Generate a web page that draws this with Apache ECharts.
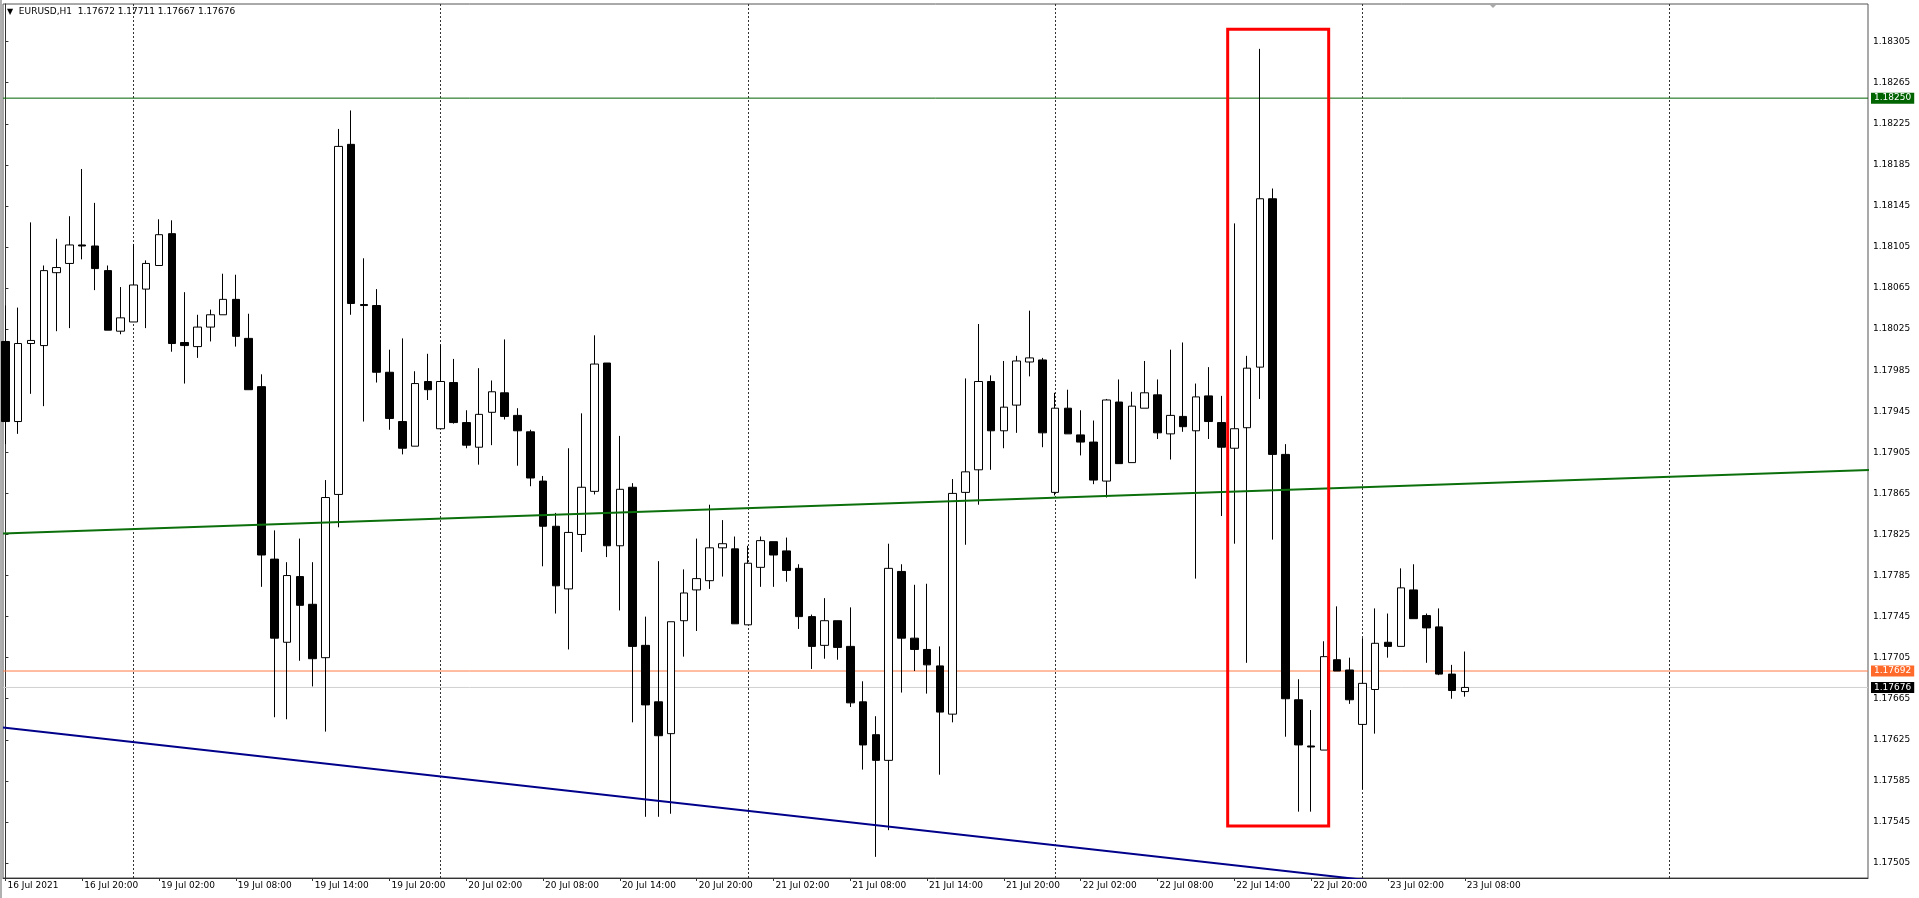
<!DOCTYPE html>
<html>
<head>
<meta charset="utf-8">
<title>EURUSD,H1</title>
<script src="https://cdn.jsdelivr.net/npm/echarts@6.0.0/dist/echarts.min.js"></script>
<style>
  html, body { margin: 0; padding: 0; background: #fff; }
  #chart { width: 1919px; height: 898px; }
</style>
</head>
<body>
<div id="chart"></div>
<script>
// hourly bars, 16 Jul 14:00 -> 23 Jul 08:00 (index = bar number)
const opens = [
  1.18013, 1.17935, 1.18011, 1.18009, 1.18080, 1.18089, 1.18107, 1.18106, 1.18082, 1.18023, 1.18032, 1.18064,
  1.18087, 1.18118, 1.18012, 1.18008, 1.18027, 1.18039, 1.18054, 1.18016, 1.17969, 1.17801, 1.17720, 1.17784,
  1.17757, 1.17705, 1.17864, 1.18205, 1.18049, 1.18048, 1.17983, 1.17935, 1.17911, 1.17974, 1.17928, 1.17973,
  1.17934, 1.17910, 1.17944, 1.17963, 1.17941, 1.17925, 1.17877, 1.17833, 1.17772, 1.17825, 1.17867, 1.17992,
  1.17814, 1.17871, 1.17717, 1.17662, 1.17631, 1.17741, 1.17771, 1.17780, 1.17812, 1.17811, 1.17737, 1.17793,
  1.17818, 1.17809, 1.17792, 1.17745, 1.17717, 1.17741, 1.17716, 1.17662, 1.17630, 1.17605, 1.17789, 1.17724,
  1.17713, 1.17697, 1.17650, 1.17866, 1.17888, 1.17974, 1.17926, 1.17951, 1.17993, 1.17995, 1.17866, 1.17948,
  1.17922, 1.17915, 1.17877, 1.17954, 1.17895, 1.17948, 1.17961, 1.17923, 1.17940, 1.17926, 1.17960, 1.17934,
  1.17909, 1.17929, 1.17988, 1.18152, 1.17903, 1.17664, 1.17619, 1.17615, 1.17703, 1.17693, 1.17640, 1.17674,
  1.17720, 1.17716, 1.17771, 1.17746, 1.17735, 1.17689, 1.17672
];
const highs = [
  1.18048, 1.18046, 1.18129, 1.18087, 1.18113, 1.18135, 1.18181, 1.18148, 1.18087, 1.18066, 1.18108, 1.18092,
  1.18132, 1.18131, 1.18061, 1.18039, 1.18044, 1.18079, 1.18078, 1.18040, 1.17981, 1.17829, 1.17798, 1.17821,
  1.17798, 1.17878, 1.18220, 1.18238, 1.18094, 1.18064, 1.18005, 1.18016, 1.17984, 1.18001, 1.18010, 1.17996,
  1.17946, 1.17987, 1.17975, 1.18015, 1.17948, 1.17927, 1.17882, 1.17846, 1.17909, 1.17943, 1.18019, 1.17992,
  1.17921, 1.17875, 1.17745, 1.17799, 1.17740, 1.17791, 1.17821, 1.17854, 1.17839, 1.17823, 1.17814, 1.17823,
  1.17818, 1.17822, 1.17796, 1.17747, 1.17763, 1.17741, 1.17754, 1.17682, 1.17648, 1.17816, 1.17796, 1.17776,
  1.17777, 1.17716, 1.17879, 1.17977, 1.18030, 1.17980, 1.17994, 1.17999, 1.18043, 1.17997, 1.17963, 1.17966,
  1.17946, 1.17936, 1.17957, 1.17976, 1.17964, 1.17994, 1.17976, 1.18005, 1.18012, 1.17972, 1.17988, 1.17960,
  1.18128, 1.17999, 1.18298, 1.18162, 1.17913, 1.17684, 1.17654, 1.17721, 1.17755, 1.17705, 1.17724, 1.17753,
  1.17748, 1.17792, 1.17796, 1.17748, 1.17753, 1.17698, 1.17711
];
const lows = [
  1.17913, 1.17923, 1.17962, 1.17950, 1.18023, 1.18026, 1.18093, 1.18063, 1.18024, 1.18020, 1.18032, 1.18026,
  1.18087, 1.18003, 1.17972, 1.17997, 1.18013, 1.18039, 1.18008, 1.17966, 1.17774, 1.17647, 1.17645, 1.17702,
  1.17677, 1.17633, 1.17832, 1.18039, 1.17935, 1.17973, 1.17927, 1.17903, 1.17911, 1.17956, 1.17928, 1.17933,
  1.17909, 1.17893, 1.17912, 1.17937, 1.17892, 1.17872, 1.17794, 1.17748, 1.17713, 1.17808, 1.17864, 1.17803,
  1.17751, 1.17642, 1.17550, 1.17550, 1.17553, 1.17706, 1.17731, 1.17772, 1.17784, 1.17738, 1.17737, 1.17774,
  1.17774, 1.17779, 1.17733, 1.17694, 1.17704, 1.17703, 1.17657, 1.17596, 1.17511, 1.17537, 1.17671, 1.17692,
  1.17670, 1.17591, 1.17642, 1.17815, 1.17854, 1.17888, 1.17909, 1.17924, 1.17979, 1.17910, 1.17863, 1.17923,
  1.17902, 1.17874, 1.17861, 1.17894, 1.17895, 1.17948, 1.17918, 1.17898, 1.17925, 1.17782, 1.17918, 1.17843,
  1.17816, 1.17700, 1.17957, 1.17820, 1.17628, 1.17555, 1.17555, 1.17615, 1.17692, 1.17660, 1.17577, 1.17631,
  1.17705, 1.17716, 1.17743, 1.17700, 1.17688, 1.17665, 1.17667
];
const closes = [
  1.17935, 1.18011, 1.18014, 1.18082, 1.18085, 1.18107, 1.18106, 1.18084, 1.18024, 1.18036, 1.18068, 1.18089,
  1.18117, 1.18011, 1.18009, 1.18027, 1.18039, 1.18054, 1.18018, 1.17966, 1.17805, 1.17724, 1.17785, 1.17756,
  1.17704, 1.17861, 1.18203, 1.18050, 1.18048, 1.17983, 1.17938, 1.17909, 1.17972, 1.17966, 1.17974, 1.17934,
  1.17912, 1.17942, 1.17964, 1.17940, 1.17926, 1.17880, 1.17833, 1.17775, 1.17827, 1.17871, 1.17991, 1.17814,
  1.17869, 1.17716, 1.17659, 1.17629, 1.17740, 1.17768, 1.17782, 1.17812, 1.17816, 1.17738, 1.17797, 1.17819,
  1.17805, 1.17790, 1.17745, 1.17716, 1.17741, 1.17715, 1.17661, 1.17620, 1.17605, 1.17792, 1.17724, 1.17713,
  1.17698, 1.17652, 1.17865, 1.17886, 1.17974, 1.17926, 1.17949, 1.17994, 1.17997, 1.17924, 1.17948, 1.17923,
  1.17915, 1.17878, 1.17956, 1.17894, 1.17950, 1.17963, 1.17924, 1.17941, 1.17930, 1.17959, 1.17935, 1.17910,
  1.17928, 1.17987, 1.18152, 1.17903, 1.17665, 1.17620, 1.17618, 1.17706, 1.17692, 1.17664, 1.17680, 1.17719,
  1.17716, 1.17773, 1.17743, 1.17734, 1.17689, 1.17673, 1.17676
];

// time axis labels, one every 6 bars starting at bar 0
const timeLabels = [
  '16 Jul 2021', '16 Jul 20:00', '19 Jul 02:00', '19 Jul 08:00', '19 Jul 14:00', '19 Jul 20:00',
  '20 Jul 02:00', '20 Jul 08:00', '20 Jul 14:00', '20 Jul 20:00', '21 Jul 02:00', '21 Jul 08:00',
  '21 Jul 14:00', '21 Jul 20:00', '22 Jul 02:00', '22 Jul 08:00', '22 Jul 14:00', '22 Jul 20:00',
  '23 Jul 02:00', '23 Jul 08:00'
];
const labelStep = 6;
// bars where a new day starts (00:00)
const dayStarts = [10, 34, 58, 82, 106, 130];

// price scale ticks
const priceTicks = [
  1.17505, 1.17545, 1.17585, 1.17625, 1.17665, 1.17705, 1.17745, 1.17785, 1.17825, 1.17865, 1.17905,
  1.17945, 1.17985, 1.18025, 1.18065, 1.18105, 1.18145, 1.18185, 1.18225, 1.18265, 1.18305
];

// horizontal levels: resistance, ask-ish line, bid
const levelPrices = [1.18250, 1.17692, 1.17676];
const levelColors = ['#006400', '#ff7a45', '#d0d0d0'];
const levelBoxColors = ['#006400', '#ff6a2b', '#000000'];

// trendlines, [bar, price] anchors
const greenTrend = [[-0.19, 1.17826], [146, 1.17888]];
const blueTrend = [[-0.19, 1.17637], [146, 1.17433]];

// red box around the spike, [bar, price] corners
const boxCorners = [[95.48, 1.18317], [103.37, 1.17541]];

const header = 'EURUSD,H1  ' + [opens[114], highs[114], lows[114], closes[114]].map(v => v.toFixed(5)).join(' ');

const candles = opens.map((o, i) => [i, o, closes[i], lows[i], highs[i]]);
const labelBars = timeLabels.map((t, i) => i * labelStep);

const font = 'DejaVu Sans';

// each level is drawn as a flat line across the whole time range, with a price box at the scale
const xMin = -0.19;
const xMax = 145.5;
const levelSeries = levelPrices.map((p, i) => ({
  name: 'level ' + p.toFixed(5),
  type: 'line',
  data: [[xMin, p], [xMax, p]],
  symbol: 'none',
  silent: true,
  z: 1,
  lineStyle: { color: levelColors[i], width: 1 },
  endLabel: {
    show: true,
    distance: 3,
    formatter: p.toFixed(5),
    color: '#fff',
    backgroundColor: levelBoxColors[i],
    padding: [1, 3, 1, 3],
    fontSize: 9,
    fontFamily: font
  }
}));

const dayLines = dayStarts.map(b => ({
  xAxis: b,
  lineStyle: { color: '#333', width: 1, type: [2, 2] },
  label: { show: false }
}));

const chart = echarts.init(document.getElementById('chart'), null, { renderer: 'canvas' });

const options = {
  animation: false,
  backgroundColor: '#fff',
  title: {
    text: '{t|▼}  ' + header,
    left: 7,
    top: 7,
    padding: 0,
    textStyle: {
      fontSize: 9,
      fontWeight: 'normal',
      fontFamily: font,
      color: '#000',
      rich: { t: { fontSize: 8, fontFamily: font, color: '#000' } }
    }
  },
  grid: {
    left: 3,
    top: 4,
    right: 51,
    bottom: 20,
    show: true,
    borderColor: '#555',
    borderWidth: 1,
    outerBoundsMode: 'none'
  },
  xAxis: {
    type: 'value',
    min: xMin,
    max: xMax,
    axisLine: { show: true, onZero: false, lineStyle: { color: '#333' } },
    axisTick: { show: true, customValues: labelBars, length: 3, lineStyle: { color: '#333' } },
    axisLabel: {
      customValues: labelBars,
      formatter: v => timeLabels[Math.round(v / labelStep)],
      align: 'left',
      margin: 3,
      padding: [0, 0, 0, 2],
      fontSize: 9,
      fontFamily: font,
      color: '#000'
    },
    splitLine: { show: false }
  },
  yAxis: {
    type: 'value',
    position: 'right',
    min: 1.174904,
    max: 1.183417,
    axisLine: { show: true, lineStyle: { color: '#333' } },
    axisTick: { show: true, customValues: priceTicks, length: 3, lineStyle: { color: '#333' } },
    axisLabel: {
      customValues: priceTicks,
      formatter: v => v.toFixed(5),
      margin: 5,
      fontSize: 9,
      fontFamily: font,
      color: '#000'
    },
    splitLine: { show: false }
  },
  series: [
    ...levelSeries,
    {
      name: 'EURUSD',
      type: 'candlestick',
      data: candles,
      encode: { x: 0, y: [1, 2, 3, 4] },
      barWidth: 8,
      z: 2,
      silent: true,
      itemStyle: {
        color: '#fff',
        color0: '#000',
        borderColor: '#000',
        borderColor0: '#000',
        borderWidth: 1
      },
      markLine: {
        silent: true,
        symbol: 'none',
        z: 1,
        animation: false,
        data: dayLines
      },
      markArea: {
        silent: true,
        z: 5,
        itemStyle: { color: 'rgba(0,0,0,0)', borderColor: '#ff0000', borderWidth: 3 },
        data: [[
          { xAxis: boxCorners[0][0], yAxis: boxCorners[0][1] },
          { xAxis: boxCorners[1][0], yAxis: boxCorners[1][1] }
        ]]
      }
    },
    {
      name: 'trend up',
      type: 'line',
      data: greenTrend,
      symbol: 'none',
      silent: true,
      z: 3,
      lineStyle: { color: '#0b6f0b', width: 2 }
    },
    {
      name: 'trend down',
      type: 'line',
      data: blueTrend,
      symbol: 'none',
      silent: true,
      z: 3,
      lineStyle: { color: '#00008b', width: 2 }
    }
  ],
  graphic: [
    // window edge on the left and the chart-shift marker at the top
    { type: 'rect', left: 0, top: 0, shape: { width: 2, height: 898 }, style: { fill: '#b0b0b0' }, silent: true },
    { type: 'polygon', shape: { points: [[1489, 4], [1497, 4], [1493, 8]] }, style: { fill: '#a8a8a8' }, silent: true }
  ]
}

chart.setOption(options)
window.onresize = () => {
  chart.resize()
}
</script>
</body>
</html>
